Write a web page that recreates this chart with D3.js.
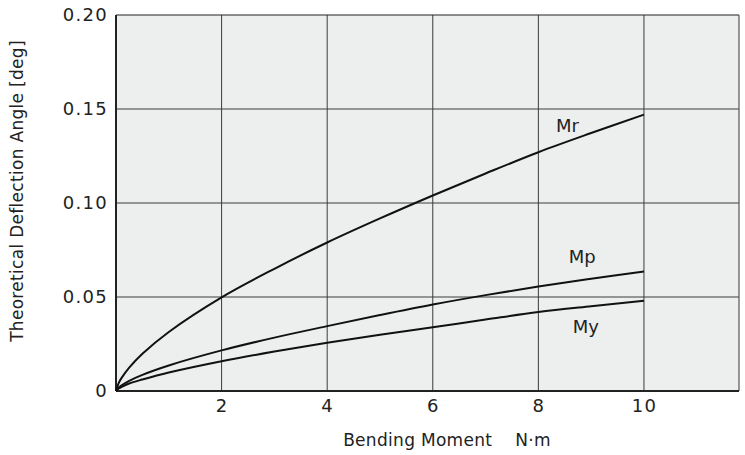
<!DOCTYPE html>
<html>
<head>
<meta charset="utf-8">
<script src="https://cdn.jsdelivr.net/npm/d3@7"></script>
<style>
  body { margin: 0; background: #fff; }
  text { font-family: "DejaVu Sans", sans-serif; fill: #222; }
</style>
</head>
<body>
<script>
var moment = [0, 0.05, 0.1, 0.25, 0.5, 1, 2, 3, 4, 5, 6, 7, 8, 9, 10];
var mr = [0, 0.0042, 0.0067, 0.0124, 0.0198, 0.0314, 0.0498, 0.0650, 0.079, 0.0918, 0.104, 0.1157, 0.127, 0.1372, 0.147];
var mp = [0, 0.0018, 0.0029, 0.0054, 0.0086, 0.0136, 0.0216, 0.0284, 0.0345, 0.0404, 0.046, 0.051, 0.0556, 0.0597, 0.0636];
var my = [0, 0.0013, 0.0021, 0.004, 0.0061, 0.0098, 0.0158, 0.021, 0.0257, 0.0299, 0.0339, 0.038, 0.042, 0.0451, 0.048];
var xTicks = [2, 4, 6, 8, 10];
var yTicks = [0, 0.05, 0.10, 0.15, 0.20];
var yTickLabels = ["0", "0.05", "0.10", "0.15", "0.20"];
var seriesNames = ["Mr", "Mp", "My"];
var labelPos = [[8.55, 0.138], [8.83, 0.068], [8.9, 0.031]];

var margin = {top: 15, right: 6, bottom: 64, left: 116},
    width = 745 - margin.left - margin.right,
    height = 455 - margin.top - margin.bottom;

var x = d3.scaleLinear().domain([0, 11.8]).range([0, width]);
var y = d3.scaleLinear().domain([0, 0.2]).range([height, 0]);

var svg = d3.select("body").append("svg")
    .attr("width", 745)
    .attr("height", 455)
  .append("g")
    .attr("transform", "translate(" + margin.left + "," + margin.top + ")");

svg.append("rect")
    .attr("width", width)
    .attr("height", height)
    .style("fill", "#edefee");

// grid
svg.append("g").selectAll("line.vg")
    .data(xTicks).enter().append("line")
    .attr("x1", function(d) { return x(d); })
    .attr("x2", function(d) { return x(d); })
    .attr("y1", 0).attr("y2", height)
    .style("stroke", "#3a3a3a").style("stroke-width", 1);
svg.append("g").selectAll("line.hg")
    .data(yTicks.slice(1, 4)).enter().append("line")
    .attr("x1", 0).attr("x2", width)
    .attr("y1", function(d) { return y(d); })
    .attr("y2", function(d) { return y(d); })
    .style("stroke", "#3a3a3a").style("stroke-width", 1);

// frame
svg.append("line").attr("x1", 0).attr("x2", width).attr("y1", 0).attr("y2", 0)
    .style("stroke", "#222").style("stroke-width", 1.2);
svg.append("line").attr("x1", width).attr("x2", width).attr("y1", 0).attr("y2", height)
    .style("stroke", "#555").style("stroke-width", 1.2);
svg.append("line").attr("x1", 0).attr("x2", width).attr("y1", height).attr("y2", height)
    .style("stroke", "#222").style("stroke-width", 2);
svg.append("line").attr("x1", 0).attr("x2", 0).attr("y1", 0).attr("y2", height)
    .style("stroke", "#222").style("stroke-width", 2);

// axes labels
var xAxis = d3.axisBottom(x).tickValues(xTicks).tickSize(0).tickPadding(8)
    .tickFormat(d3.format("d"));
var gx = svg.append("g").attr("transform", "translate(0," + height + ")").call(xAxis);
gx.select(".domain").remove();
gx.selectAll("text").style("font-size", "18px").style("font-family", "'DejaVu Sans', sans-serif")
    .style("letter-spacing", "1.3px").style("fill", "#222");

var yAxis = d3.axisLeft(y).tickValues(yTicks).tickSize(0).tickPadding(8)
    .tickFormat(function(d, i) { return yTickLabels[i]; });
var gy = svg.append("g").call(yAxis);
gy.select(".domain").remove();
gy.selectAll("text").style("font-size", "18px").style("font-family", "'DejaVu Sans', sans-serif")
    .style("letter-spacing", "1.3px").style("fill", "#222");

svg.append("text")
    .attr("x", 331)
    .attr("y", height + 55)
    .attr("text-anchor", "middle")
    .style("font-size", "17px")
    .style("letter-spacing", "0.3px")
    .text("Bending Moment\u2003 N\u00b7m");

svg.append("text")
    .attr("transform", "translate(" + (-93) + "," + 176 + ") rotate(-90)")
    .attr("text-anchor", "middle")
    .style("font-size", "17px")
    .style("letter-spacing", "0.3px")
    .text("Theoretical Deflection Angle [deg]");

// curves
var line = d3.line()
    .x(function(d) { return x(d[0]); })
    .y(function(d) { return y(d[1]); })
    .curve(d3.curveCatmullRom.alpha(0.5));

[mr, mp, my].forEach(function(s, i) {
    svg.append("path")
        .datum(moment.map(function(m, j) { return [m, s[j]]; }))
        .attr("d", line)
        .style("fill", "none")
        .style("stroke", "#111")
        .style("stroke-width", 2);
    svg.append("text")
        .attr("x", x(labelPos[i][0]))
        .attr("y", y(labelPos[i][1]))
        .attr("text-anchor", "middle")
        .style("font-size", "18px")
        .text(seriesNames[i]);
});
</script>
</body>
</html>
